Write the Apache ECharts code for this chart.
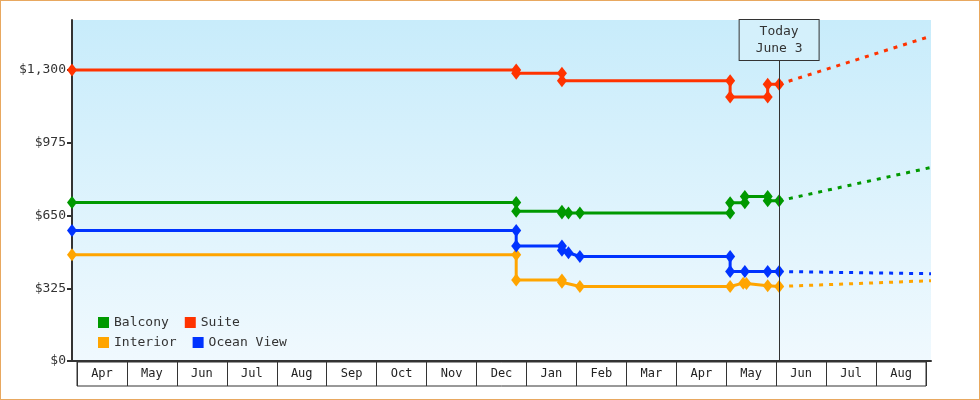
<!DOCTYPE html>
<html>
<head>
<meta charset="utf-8">
<script src="https://cdn.jsdelivr.net/npm/echarts@6/dist/echarts.min.js"></script>
<style>
  html, body { margin: 0; padding: 0; background: #fff; }
  #chart { width: 978px; height: 398px; border: 1px solid #e8a860; }
</style>
</head>
<body>
<div id="chart"></div>
<script>
// Month labels for the box row
var months = ['Apr', 'May', 'Jun', 'Jul', 'Aug', 'Sep', 'Oct', 'Nov', 'Dec', 'Jan', 'Feb', 'Mar', 'Apr', 'May', 'Jun', 'Jul', 'Aug'];
var yTicks = [0, 325, 650, 975, 1300];

// Price history, paired points where the price changed
var suite = [['2023-03-28', 1300], ['2023-12-25', 1300], ['2023-12-25', 1286], ['2024-01-22', 1286], ['2024-01-22', 1253],
    ['2024-05-04', 1253], ['2024-05-04', 1180], ['2024-05-27', 1180], ['2024-05-27', 1237], ['2024-06-03', 1237]];
var balcony = [['2023-03-28', 708], ['2023-12-25', 708], ['2023-12-25', 669], ['2024-01-22', 669], ['2024-01-22', 662],
    ['2024-01-26', 662], ['2024-02-02', 662], ['2024-05-04', 662], ['2024-05-04', 707], ['2024-05-13', 707],
    ['2024-05-13', 735], ['2024-05-27', 735], ['2024-05-27', 716], ['2024-06-03', 716]];
var oceanView = [['2023-03-28', 583], ['2023-12-25', 583], ['2023-12-25', 514], ['2024-01-22', 514], ['2024-01-22', 495],
    ['2024-01-26', 484], ['2024-02-02', 467], ['2024-05-04', 467], ['2024-05-04', 400], ['2024-05-13', 400],
    ['2024-05-27', 400], ['2024-06-03', 400]];
var interior = [['2023-03-28', 475], ['2023-12-25', 475], ['2023-12-25', 362], ['2024-01-22', 362], ['2024-01-22', 352],
    ['2024-02-02', 333], ['2024-05-04', 333], ['2024-05-12', 348], ['2024-05-14', 346], ['2024-05-27', 336], ['2024-06-03', 333]];

// Forecasts from today on
var suiteFc = [['2024-06-03', 1237], ['2024-09-04', 1452]];
var balconyFc = [['2024-06-03', 716], ['2024-09-04', 865]];
var oceanFc = [['2024-06-03', 400], ['2024-09-04', 390]];
var interiorFc = [['2024-06-03', 333], ['2024-09-04', 359]];

var colors = { Balcony: '#009900', Suite: '#ff3300', Interior: '#ffa500', 'Ocean View': '#0033ff' };
var font = '"DejaVu Sans Mono", monospace';

function histSeries(name, data) {
    return {
        name: name, type: 'line', data: data, color: colors[name],
        symbol: 'diamond', symbolSize: [10, 13], lineStyle: { width: 3, color: colors[name] },
        itemStyle: { color: colors[name] }, animation: false
    };
}
function fcSeries(name, data) {
    return {
        name: name, type: 'line', data: data, color: colors[name], showSymbol: false,
        lineStyle: { width: 3, type: [4, 6], color: colors[name] }, animation: false
    };
}

var chart = echarts.init(document.getElementById('chart'));
var legendBase = {
    left: 92, itemWidth: 11, itemHeight: 11, icon: 'rect', itemGap: 16,
    textStyle: { fontFamily: font, fontSize: 13, color: '#333', width: 68 }
};
var series = [
    histSeries('Balcony', balcony), histSeries('Suite', suite),
    histSeries('Interior', interior), histSeries('Ocean View', oceanView),
    fcSeries('Balcony', balconyFc), fcSeries('Suite', suiteFc),
    fcSeries('Interior', interiorFc), fcSeries('Ocean View', oceanFc)
];
series[0].markLine = {
    silent: true, symbol: 'none',
    lineStyle: { color: '#333', width: 1, type: 'solid' },
    label: {
        show: true, position: 'end', formatter: 'Today\nJune 3', fontFamily: font, fontSize: 13,
        color: '#333', backgroundColor: '#d4f0fb', borderColor: '#333', borderWidth: 1,
        padding: [3, 16], lineHeight: 17, distance: 0
    },
    data: [[{ coord: ['2024-06-03', 0] }, { coord: ['2024-06-03', 1345] }]]
};

chart.setOption({
    textStyle: { fontFamily: font },
    grid: [
        { left: 71, right: 48, top: 19, height: 341, show: true, borderWidth: 0,
          backgroundColor: new echarts.graphic.LinearGradient(0, 0, 0, 1, [
              { offset: 0, color: '#c8ecfb' }, { offset: 1, color: '#f0f9fe' }]) },
        { left: 76, right: 53, top: 361, height: 24, show: true, borderColor: '#333', borderWidth: 1 }
    ],
    legend: [
        Object.assign({ top: 310, data: ['Balcony', 'Suite'] }, legendBase),
        Object.assign({ top: 330, data: ['Interior', 'Ocean View'] }, legendBase)
    ],
    xAxis: [
        { type: 'time', gridIndex: 0, min: '2023-03-28', max: '2024-09-04',
          axisLine: { show: true, lineStyle: { color: '#333', width: 2 } },
          axisTick: { show: false }, axisLabel: { show: false }, splitLine: { show: false } },
        { type: 'category', gridIndex: 1, data: months, position: 'top', boundaryGap: true,
          axisLine: { show: false }, axisTick: { show: false },
          axisLabel: { inside: true, margin: 6, fontFamily: font, fontSize: 12, color: '#222', interval: 0 },
          splitLine: { show: true, interval: 0, lineStyle: { color: '#333', width: 1 } } }
    ],
    yAxis: [
        { type: 'value', gridIndex: 0, min: 0, max: 1524, interval: 325,
          axisLine: { show: true, lineStyle: { color: '#333', width: 2 } },
          axisTick: { show: true, length: 5, customValues: yTicks, lineStyle: { color: '#333', width: 2 } },
          axisLabel: { fontFamily: font, fontSize: 13, color: '#333', margin: 6, customValues: yTicks,
              formatter: function (v) { return yTicks.indexOf(v) < 0 ? '' : '$' + v.toLocaleString('en-US'); } },
          splitLine: { show: false } },
        { type: 'value', gridIndex: 1, show: false }
    ],
    series: series
});
</script>
</body>
</html>
